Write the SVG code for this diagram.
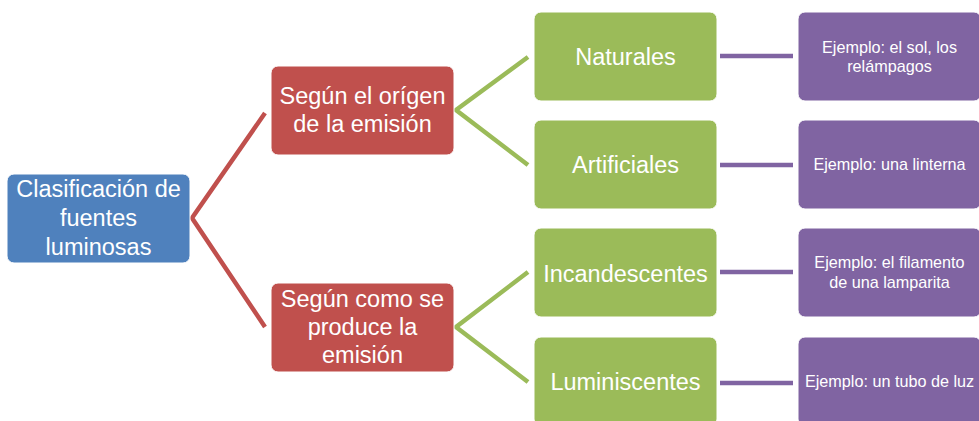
<svg xmlns="http://www.w3.org/2000/svg" width="979" height="421" viewBox="0 0 979 421">
<style>
.n rect{stroke:#fff;stroke-width:1}
.blue rect{fill:#4F81BD}
.red rect{fill:#C0504D}
.green rect{fill:#9BBB59}
.purple rect{fill:#8064A2}
text{font-family:"Liberation Sans",Arial,sans-serif;fill:#fff;text-anchor:middle}
.big{font-size:23.5px}
.small{font-size:16.2px}
#connectors path,#connectors line{fill:none;stroke-width:4.5;stroke-linejoin:miter}
</style>
<rect width="979" height="421" fill="#fff"/>
<g id="connectors">
<path d="M265,113 L192,218 L265,327" stroke="#C0504D"/>
<path d="M528,57 L456,110 L528,165" stroke="#9BBB59"/>
<path d="M528,272 L456,327 L528,382" stroke="#9BBB59"/>
<line x1="720" y1="56" x2="793" y2="56" stroke="#8064A2"/>
<line x1="720" y1="165" x2="793" y2="165" stroke="#8064A2"/>
<line x1="720" y1="272" x2="793" y2="272" stroke="#8064A2"/>
<line x1="720" y1="383" x2="793" y2="383" stroke="#8064A2"/>
</g>
<g id="root" class="n blue">
<rect x="7" y="174" width="183" height="89" rx="7"/>
<text class="big" x="98.5" y="197">Clasificación de</text>
<text class="big" x="98.5" y="226">fuentes</text>
<text class="big" x="98.5" y="255">luminosas</text>
</g>
<g id="origen" class="n red">
<rect x="271" y="66" width="183" height="89" rx="7"/>
<text class="big" x="362.5" y="104">Según el orígen</text>
<text class="big" x="362.5" y="132">de la emisión</text>
</g>
<g id="produce" class="n red">
<rect x="271" y="283" width="183" height="89" rx="7"/>
<text class="big" x="362.5" y="307">Según como se</text>
<text class="big" x="362.5" y="335">produce la</text>
<text class="big" x="362.5" y="363">emisión</text>
</g>
<g id="naturales" class="n green">
<rect x="534" y="12" width="183" height="89" rx="7"/>
<text class="big" x="625.5" y="65">Naturales</text>
</g>
<g id="artificiales" class="n green">
<rect x="534" y="120" width="183" height="89" rx="7"/>
<text class="big" x="625.5" y="173">Artificiales</text>
</g>
<g id="incandescentes" class="n green">
<rect x="534" y="228" width="183" height="89" rx="7"/>
<text class="big" x="625.5" y="282">Incandescentes</text>
</g>
<g id="luminiscentes" class="n green">
<rect x="534" y="337" width="183" height="89" rx="7"/>
<text class="big" x="625.5" y="390">Luminiscentes</text>
</g>
<g id="ej-natural" class="n purple">
<rect x="798" y="12" width="183" height="89" rx="7"/>
<text class="small" x="889.5" y="53">Ejemplo: el sol, los</text>
<text class="small" x="889.5" y="72">relámpagos</text>
</g>
<g id="ej-artificial" class="n purple">
<rect x="798" y="120" width="183" height="89" rx="7"/>
<text class="small" x="889.5" y="170">Ejemplo: una linterna</text>
</g>
<g id="ej-incandescente" class="n purple">
<rect x="798" y="228" width="183" height="89" rx="7"/>
<text class="small" x="889.5" y="268">Ejemplo: el filamento</text>
<text class="small" x="889.5" y="288">de una lamparita</text>
</g>
<g id="ej-luminiscente" class="n purple">
<rect x="798" y="337" width="183" height="89" rx="7"/>
<text class="small" x="889.5" y="387">Ejemplo: un tubo de luz</text>
</g>
</svg>
